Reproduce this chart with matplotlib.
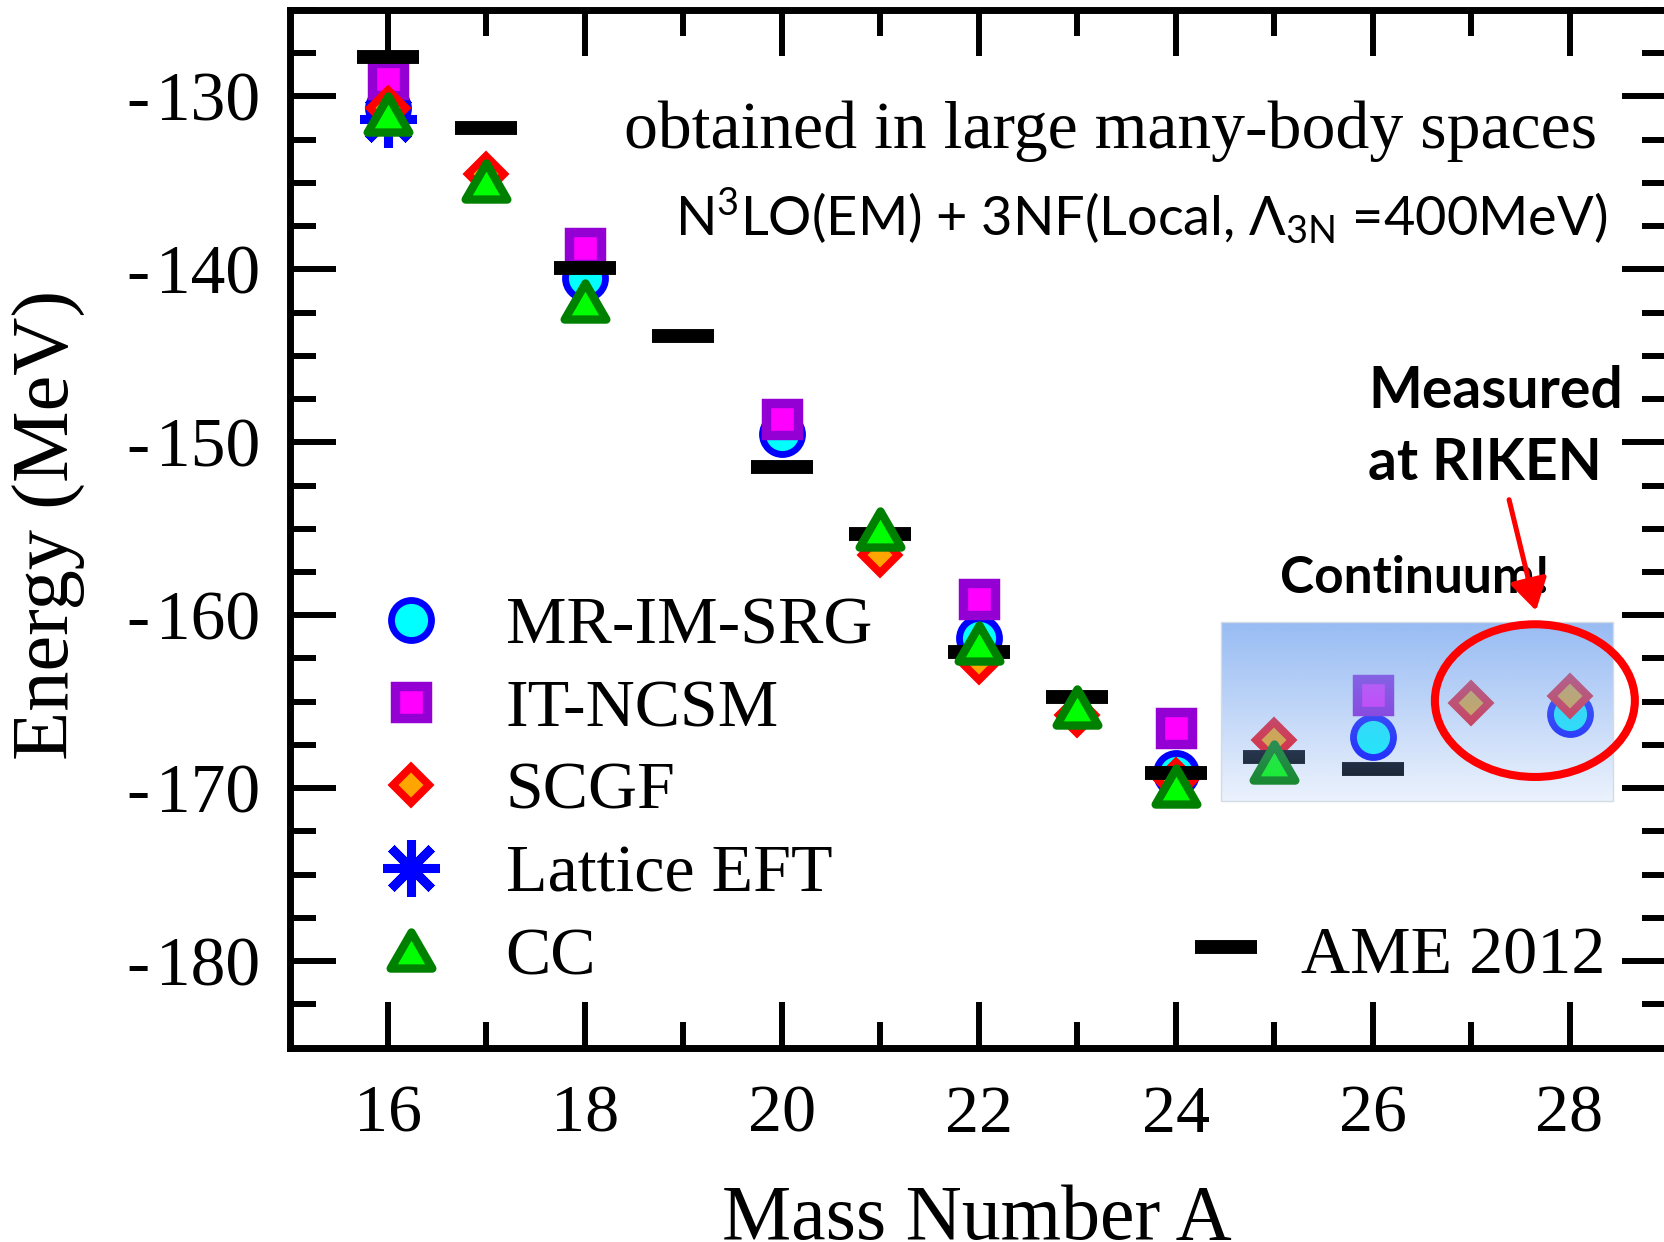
import numpy as np
import matplotlib
matplotlib.use("Agg")
import matplotlib.pyplot as plt
from matplotlib.markers import MarkerStyle
from matplotlib.path import Path
from matplotlib.patches import Ellipse, Rectangle

# Ground-state energies of the oxygen isotopes (MeV)
ame_A = [16, 17, 18, 19, 20, 21, 22, 23, 24, 25, 26]
ame_E = [-127.7, -131.8, -139.9, -143.85, -151.4, -155.3, -162.1, -164.75, -169.1, -168.2, -168.9]

imsrg_A = [16, 18, 20, 22, 24, 26, 28]
imsrg_E = [-130.65, -140.5, -149.5, -161.3, -169.15, -167.05, -165.7]

ncsm_A = [16, 18, 20, 22, 24, 26]
ncsm_E = [-129.0, -138.75, -148.65, -159.05, -166.5, -164.6]

scgf_A = [16, 17, 21, 22, 23, 24, 25, 27, 28]
scgf_E = [-130.65, -134.5, -156.5, -162.7, -165.75, -169.55, -167.2, -165.1, -164.65]

lattice_A = [16]
lattice_E = [-131.3]

cc_A = [16, 17, 18, 21, 22, 23, 24, 25]
cc_E = [-131.0, -134.9, -141.8, -155.0, -161.6, -165.3, -169.85, -168.5]

x_ticks = [16, 18, 20, 22, 24, 26, 28]
y_ticks = [-180, -170, -160, -150, -140, -130]

plt.rcParams["axes.unicode_minus"] = False
plt.rcParams["mathtext.fontset"] = "custom"
plt.rcParams["mathtext.rm"] = "Lato"
plt.rcParams["mathtext.it"] = "Lato:italic"
plt.rcParams["mathtext.bf"] = "Lato:bold"
SERIF = "Liberation Serif"

W, H = 1664, 1242
fig = plt.figure(figsize=(W / 100, H / 100), dpi=100)


def fpos(x, y):
    """Pixel position (from top-left) to figure fraction."""
    return x / W, 1 - y / H


ax = fig.add_axes([289.5 / W, 1 - 1047.5 / H, 1378.5 / W, 1037.5 / H])

# equilateral triangle marker
tri_path = Path([(0, 0.75), (-0.866, -0.75), (0.866, -0.75), (0, 0.75)], closed=True)
tri_marker = MarkerStyle(tri_path, joinstyle="miter")

h_lat, = ax.plot(lattice_A, lattice_E, ls="none", marker=(8, 2, 0), ms=41, mew=6.5,
                 color="#0000ff", zorder=3, label="Lattice EFT")
h_im, = ax.plot(imsrg_A, imsrg_E, ls="none", marker="o", ms=28.8, mew=4.9,
                mec="#0000ff", mfc="#00ffff", zorder=4, label="MR-IM-SRG")
h_nc, = ax.plot(ncsm_A, ncsm_E, ls="none", marker="s", ms=23.6, mew=6.8,
                mec="#9400d3", mfc="#ff00ff", zorder=5, label="IT-NCSM")
h_sc, = ax.plot(scgf_A, scgf_E, ls="none", marker="D", ms=18.8, mew=5.6,
                mec="#ff0000", mfc="#ffa500", zorder=6, label="SCGF")
h_ame, = ax.plot(ame_A, ame_E, ls="none", marker="_", ms=44, mew=10,
                 color="black", zorder=7, label="AME 2012")
h_cc, = ax.plot(cc_A, cc_E, ls="none", marker=tri_marker, ms=30, mew=6,
                mec="#008000", mfc="#00ff00", zorder=8, label="CC")

# translucent gradient panel over the unbound region
box_x0, box_x1 = 24.457, 28.44
box_y0, box_y1 = -170.72, -160.42
n = 200
grad = np.zeros((n, 1, 4))
grad[..., 0] = 122 / 255
grad[..., 1] = 168 / 255
grad[..., 2] = 240 / 255
grad[:, 0, 3] = np.linspace(0.78, 0.15, n)
ax.imshow(grad, extent=(box_x0, box_x1, box_y0, box_y1), origin="upper",
          aspect="auto", interpolation="bilinear", zorder=9)
ax.add_patch(Rectangle((box_x0, box_y0), box_x1 - box_x0, box_y1 - box_y0,
                       fill=False, ec="#d5dbe3", lw=1.0, zorder=9.5))

ax.add_patch(Ellipse((27.648, -164.94), 2.031, 8.83, fill=False,
                     ec="#ff0000", lw=5.8, zorder=10))
ax.annotate("", xy=(27.66, -159.74), xytext=(27.386, -153.32),
            arrowprops=dict(arrowstyle="-|>,head_length=1.0,head_width=0.6",
                            color="#ff0000", lw=3.6, mutation_scale=19,
                            shrinkA=0, shrinkB=0),
            zorder=11, annotation_clip=False)

ax.set_xlim(15, 29)
ax.set_ylim(-185, -125)
ax.set_xticks(x_ticks)
ax.set_xticks(np.arange(17, 29, 2), minor=True)
ax.set_yticks(y_ticks)
ax.set_yticks(np.arange(-182.5, -124, 2.5), minor=True)
ax.set_xticklabels([str(v) for v in x_ticks])
ax.set_yticklabels(["-\u200a" + str(abs(v)) for v in y_ticks])

for s in ax.spines.values():
    s.set_linewidth(5)
ax.tick_params(which="both", direction="in", top=True, right=True, width=4.3)
ax.tick_params(which="major", length=33)
ax.tick_params(which="minor", length=18.5)
ax.tick_params(axis="x", which="major", pad=27)
ax.tick_params(axis="y", which="major", pad=21)
for lab in ax.get_xticklabels():
    lab.set_fontfamily(SERIF)
    lab.set_fontsize(49)
for lab in ax.get_yticklabels():
    lab.set_fontfamily(SERIF)
    lab.set_fontsize(50)

ax.set_xlabel("Mass Number A", fontfamily=SERIF, fontsize=56)
ax.set_ylabel("Energy (MeV)", fontfamily=SERIF, fontsize=58)
ax.xaxis.set_label_coords(0.4987, -0.1316)
ax.yaxis.set_label_coords(-0.1478, 0.5036)

leg1 = ax.legend(handles=[h_im, h_nc, h_sc, h_lat, h_cc], loc="center left",
                 bbox_to_anchor=fpos(360, 792), bbox_transform=fig.transFigure,
                 frameon=False, numpoints=1, handlelength=1.5, handletextpad=0.64,
                 labelspacing=0.31, borderpad=0, borderaxespad=0,
                 prop=dict(family=SERIF, size=49))
ax.add_artist(leg1)
leg2 = ax.legend(handles=[h_ame], loc="center left",
                 bbox_to_anchor=fpos(1192, 954), bbox_transform=fig.transFigure,
                 frameon=False, numpoints=1, handlelength=1.0, handleheight=0.97,
                 handletextpad=0.6, borderpad=0, borderaxespad=0,
                 prop=dict(family=SERIF, size=49))

tf = fig.transFigure
ax.text(*fpos(624, 148), "obtained in large many-body spaces", transform=tf,
        ha="left", va="baseline", fontfamily=SERIF, fontsize=48.8, zorder=12)
ax.text(*fpos(675, 236), r"N$^{\mathrm{3}}$LO(EM) + 3NF(Local, Λ$_{\mathrm{3N}}$ =400MeV)",
        transform=tf, ha="left", va="baseline", fontfamily="Lato",
        fontsize=39, zorder=12)
ax.text(*fpos(1368, 408), "Measured", transform=tf, ha="left", va="baseline",
        fontfamily="Lato", fontweight="bold", fontsize=41, zorder=10.5)
ax.text(*fpos(1368, 480), "at RIKEN", transform=tf, ha="left", va="baseline",
        fontfamily="Lato", fontweight="bold", fontsize=41, zorder=10.5)
ax.text(*fpos(1280, 593), "Continuum!", transform=tf, ha="left", va="baseline",
        fontfamily="Lato", fontweight="bold", fontsize=37, zorder=10.5)

fig.savefig("out.png", dpi=100)
